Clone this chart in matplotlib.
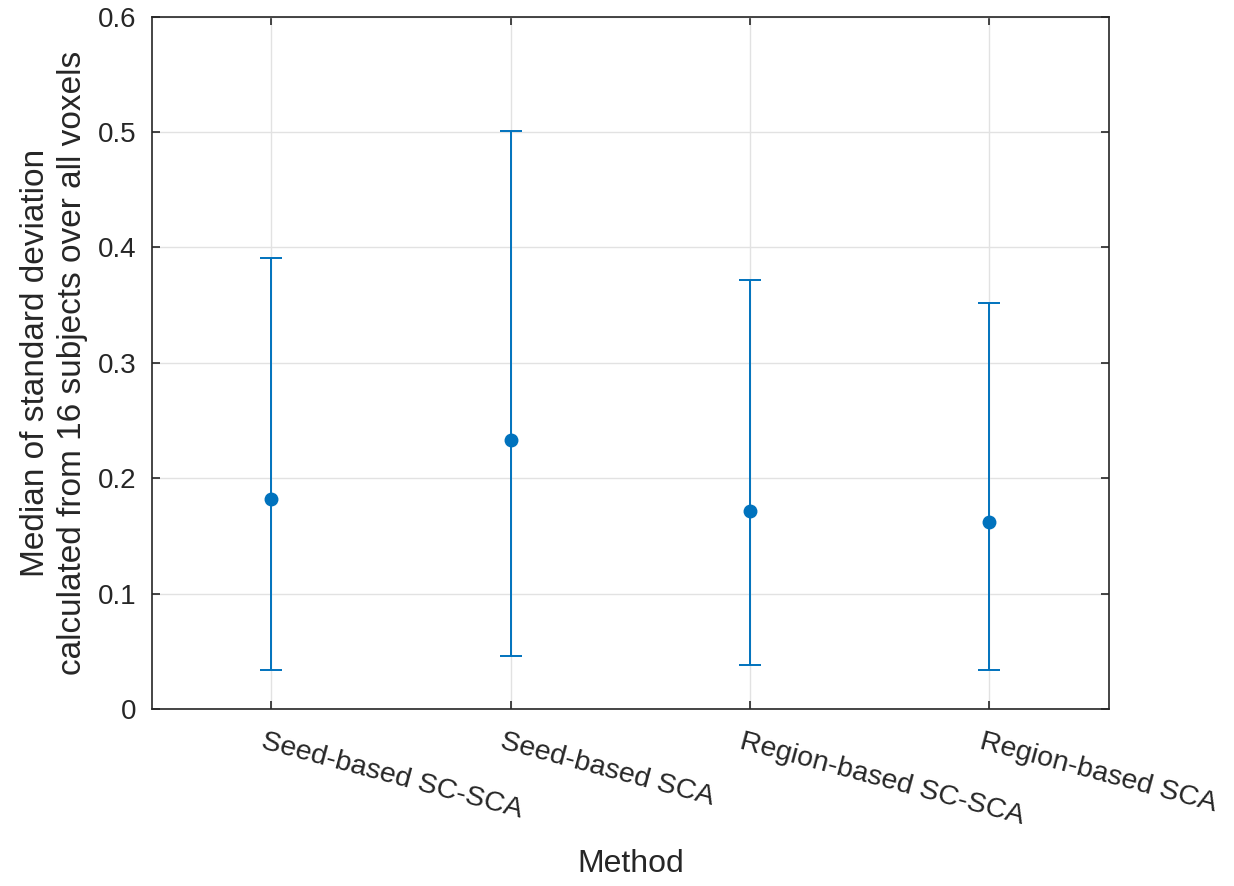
import matplotlib.pyplot as plt
import matplotlib.transforms as mtransforms

# median std per method, with lower / upper whisker ends
methods = ["Seed-based SC-SCA", "Seed-based SCA", "Region-based SC-SCA", "Region-based SCA"]
median_std = [0.182, 0.233, 0.172, 0.162]
lower_end = [0.034, 0.046, 0.038, 0.034]
upper_end = [0.391, 0.501, 0.372, 0.352]

plt.rcParams["font.family"] = ["Liberation Sans", "DejaVu Sans"]
axis_color = "#262626"
blue = "#0072BD"

fig = plt.figure(figsize=(12.34, 8.86), dpi=100)
ax = fig.add_axes([0.1229, 0.1998, 0.7758, 0.7814])

x = list(range(1, len(methods) + 1))
err_low = [m - lo for m, lo in zip(median_std, lower_end)]
err_high = [hi - m for m, hi in zip(median_std, upper_end)]
ax.errorbar(x, median_std, yerr=[err_low, err_high], fmt="o", color=blue,
            markersize=9, elinewidth=1.4, capsize=8, capthick=1.4, zorder=3)

ax.set_xlim(0.5, 4.5)
ax.set_ylim(0, 0.6)
ax.set_xticks(x)
ax.set_yticks([0, 0.1, 0.2, 0.3, 0.4, 0.5, 0.6])
ax.set_yticklabels(["0", "0.1", "0.2", "0.3", "0.4", "0.5", "0.6"])
ax.set_xticklabels(methods, rotation=-15, ha="left", va="top",
                   rotation_mode="anchor", fontsize=20.5)

ax.grid(True, color="#e2e2e2", linewidth=1.0)
ax.set_axisbelow(True)
for spine in ax.spines.values():
    spine.set_color(axis_color)
    spine.set_linewidth(1.2)
ax.tick_params(direction="in", length=6, width=1.2, color=axis_color,
               labelcolor=axis_color, top=True, right=True)
ax.tick_params(axis="y", pad=11, labelsize=20)
ax.tick_params(axis="x", pad=14)

# nudge the slanted labels a little to the left of their ticks
shift = mtransforms.ScaledTranslation(-6 / 100, 0, fig.dpi_scale_trans)
for lbl in ax.get_xticklabels():
    lbl.set_transform(lbl.get_transform() + shift)

ax.set_xlabel("Method", fontsize=23, color=axis_color, labelpad=14)
ax.set_ylabel("Median of standard deviation\ncalculated from 16 subjects over all voxels",
              fontsize=24, color=axis_color, labelpad=7, linespacing=1.25)

fig.savefig("out.png", dpi=100)
